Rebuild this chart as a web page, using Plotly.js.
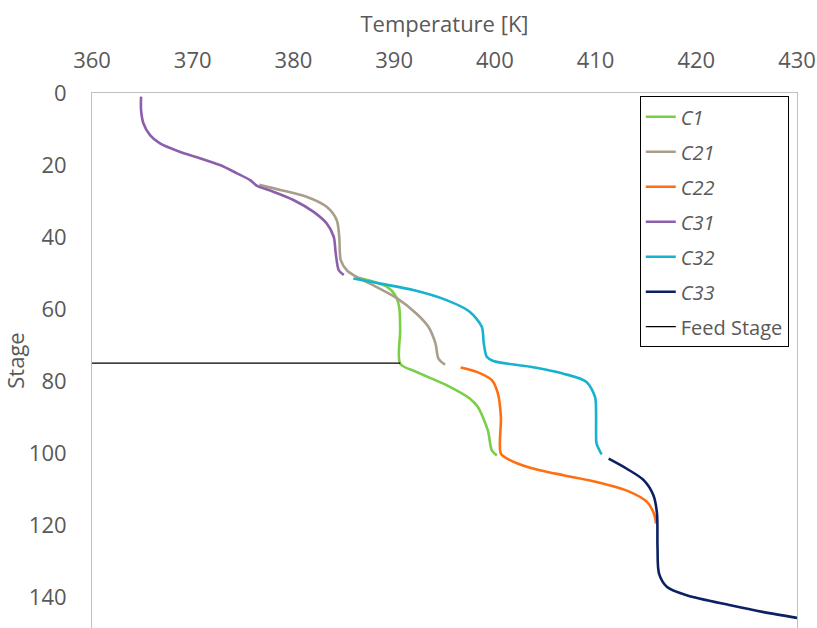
<!DOCTYPE html>
<html>
<head>
<meta charset="utf-8">
<script src="https://cdn.plot.ly/plotly-3.0.1.min.js"></script>
<style>html,body{margin:0;padding:0;background:#fff;}#chart{width:817px;height:628px;}</style>
</head>
<body>
<div id="chart"></div>
<script>
// Series data: temperature [K] vs stage
const seriesNames = ['C1', 'C21', 'C22', 'C31', 'C32', 'C33'];

const c1Stage = [51.3, 53.8, 56.1, 59.4, 65.8, 75.1, 77.4, 81.1, 84.8, 87.1, 93.6, 99.2, 100.6];
const c1Temp  = [386.5, 389.3, 390.1, 390.5, 390.6, 390.6, 392.2, 395.2, 397.5, 398.3, 399.3, 399.7, 400.2];

const c21Stage = [25.5, 26.9, 28.8, 31.6, 35.3, 39.9, 46.4, 49.2, 50.6, 52.9, 57, 61.2, 64.9, 69.5, 73.7, 75.4];
const c21Temp  = [376.6, 378.7, 381.3, 383.3, 384.3, 384.55, 384.7, 385.3, 386.0, 387.6, 390.3, 392.2, 393.4, 394.1, 394.4, 395.05];

const c22Stage = [76.2, 77.4, 79.7, 83.4, 89.9, 100.1, 101.9, 104, 106.1, 108, 110.7, 113.5, 116.8, 119.5];
const c22Temp  = [396.6, 398.2, 399.7, 400.3, 400.6, 400.6, 401.5, 403.5, 406.8, 410.1, 413.4, 415.1, 415.8, 416.0];

const c31Stage = [1, 4.7, 8.4, 11.7, 14, 16.3, 18.1, 20, 22.3, 24.2, 25.8, 27.4, 29.7, 33, 36.2, 39.9, 44.5, 49.2, 50.5];
const c31Temp  = [364.87, 364.87, 365.1, 365.76, 366.75, 368.7, 370.7, 372.7, 374.4, 375.7, 376.4, 378.0, 380.0, 382.0, 383.3, 384.0, 384.2, 384.5, 385.0];

const c32Stage = [51.5, 52.9, 54.7, 57.5, 60.7, 64.9, 69.5, 73.2, 74.4, 76, 77.9, 80.2, 84.4, 89, 93.6, 97.3, 100.3];
const c32Temp  = [385.95, 388.6, 391.9, 395.2, 397.5, 398.7, 398.9, 399.2, 399.85, 403.5, 406.8, 409.1, 409.95, 410.05, 410.05, 410.1, 410.6];

const c33Stage = [101.5, 104.3, 107.5, 111.7, 116.8, 126, 133.4, 137.1, 139.4, 142.2, 144.1, 145.7];
const c33Temp  = [411.3, 413.1, 414.8, 415.75, 416.1, 416.15, 416.3, 417.1, 419.05, 423.4, 426.7, 430.0];

const feedName  = 'Feed Stage';
const feedStage = [75, 75];
const feedTemp  = [360, 390.6];

const xTicks = [360, 370, 380, 390, 400, 410, 420, 430];
const yTicks = [0, 20, 40, 60, 80, 100, 120, 140];

const stages = [c1Stage, c21Stage, c22Stage, c31Stage, c32Stage, c33Stage];
const temps  = [c1Temp, c21Temp, c22Temp, c31Temp, c32Temp, c33Temp];
const colors = ['#7ACF48', '#A99E8B', '#FF6F10', '#8C5FAC', '#17B2D0', '#0C2063'];

const traces = seriesNames.map((n, i) => ({
  type: 'scatter', mode: 'lines',
  x: temps[i], y: stages[i],
  name: '<i>' + n + '</i>',
  legendgroup: n,
  line: {color: colors[i], width: 2.6, shape: 'spline', smoothing: 0.8}
}));
traces.push({
  type: 'scatter', mode: 'lines',
  x: feedTemp, y: feedStage, name: feedName, legendgroup: 'feed',
  line: {color: '#000000', width: 1.3}
});

const font = 'Open Sans, Noto Sans, sans-serif';
const layout = {
  width: 817, height: 628,
  margin: {l: 92, r: 20, t: 93, b: 0},
  paper_bgcolor: '#fff', plot_bgcolor: '#fff',
  font: {family: font, color: '#595959', size: 22},
  showlegend: true,
  xaxis: {
    side: 'top', range: [360, 430], tickvals: xTicks,
    showgrid: false, zeroline: false,
    showline: true, linecolor: '#BFBFBF', linewidth: 1, mirror: false,
    ticks: 'outside', ticklen: 15, tickcolor: 'rgba(0,0,0,0)',
    tickfont: {family: font, size: 22, color: '#595959'},
    title: {text: 'Temperature [K]', font: {family: font, size: 22, color: '#595959'}, standoff: 5}
  },
  yaxis: {
    range: [148.5, 0], tickvals: yTicks,
    showgrid: false, zeroline: false,
    showline: true, linecolor: '#BFBFBF', linewidth: 1, mirror: true,
    ticks: 'outside', ticklen: 20, tickcolor: 'rgba(0,0,0,0)',
    tickfont: {family: font, size: 22, color: '#595959'},
    title: {text: 'Stage', font: {family: font, size: 22, color: '#595959'}, standoff: 8}
  },
  legend: {
    x: 0.777, y: 0.994, xanchor: 'left', yanchor: 'top',
    bgcolor: '#fff', bordercolor: '#000', borderwidth: 1,
    font: {family: font, size: 20, color: '#595959'},
    tracegroupgap: 6, traceorder: 'grouped'
  }
};

Plotly.newPlot('chart', traces, layout, {staticPlot: true, displayModeBar: false});
</script>
</body>
</html>
